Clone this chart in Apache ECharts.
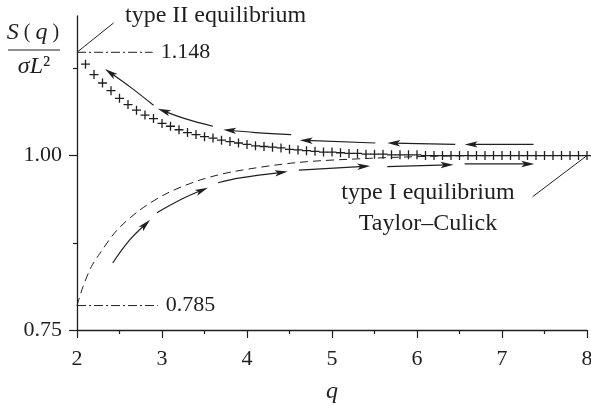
<!DOCTYPE html>
<html>
<head>
<meta charset="utf-8">
<script src="https://cdn.jsdelivr.net/npm/echarts@6/dist/echarts.min.js"></script>
<style>
  html, body { margin: 0; padding: 0; background: #fff; }
  #chart { width: 591px; height: 405px; }
</style>
</head>
<body>
<div id="chart"></div>
<script>
// q values of the "+" markers and S(q)/(sigma L^2)
const plusQ = [2.1, 2.2, 2.3, 2.4, 2.5, 2.6, 2.7, 2.8, 2.9, 3.0,
  3.1, 3.2, 3.3, 3.4, 3.5, 3.6, 3.7, 3.8, 3.9, 4.0,
  4.1, 4.2, 4.3, 4.4, 4.5, 4.6, 4.7, 4.8, 4.9, 5.0,
  5.1, 5.2, 5.3, 5.4, 5.5, 5.6, 5.7, 5.8, 5.9, 6.0,
  6.1, 6.2, 6.3, 6.4, 6.5, 6.6, 6.7, 6.8, 6.9, 7.0,
  7.1, 7.2, 7.3, 7.4, 7.5, 7.6, 7.7, 7.8, 7.9, 8.0]
const plusS = [1.131, 1.116, 1.104, 1.093, 1.082, 1.073, 1.065, 1.058, 1.053, 1.046,
  1.042, 1.037, 1.033, 1.030, 1.027, 1.025, 1.022, 1.020, 1.018, 1.016,
  1.014, 1.013, 1.012, 1.011, 1.009, 1.008, 1.007, 1.006, 1.005, 1.005,
  1.004, 1.003, 1.003, 1.002, 1.002, 1.002, 1.001, 1.001, 1.001, 1.001,
  1.000, 1.000, 1.000, 1.000, 1.000, 1.000, 1.000, 1.000, 1.000, 1.000,
  1.000, 1.000, 1.000, 1.000, 1.000, 1.000, 1.000, 1.000, 1.000, 1.000]

// dashed curve starting at the type I value 0.785
const dashQ = [2.0, 2.07, 2.17, 2.27, 2.47, 2.74, 3.06, 3.45, 3.84, 4.59, 5.44, 6.2, 7.0, 8.0]
const dashS = [0.785, 0.812, 0.841, 0.860, 0.893, 0.922, 0.946, 0.965, 0.977, 0.990, 0.996, 0.999, 1.000, 1.000]

// arrow segments, points from tail to head
const upperArrows = [
  [[2.90, 1.072], [2.64, 1.097], [2.33, 1.124]],
  [[3.60, 1.042], [3.27, 1.053], [2.95, 1.067]],
  [[4.52, 1.030], [4.10, 1.033], [3.72, 1.037]],
  [[5.51, 1.018], [4.62, 1.022]],
  [[6.45, 1.016], [5.65, 1.018]],
  [[7.37, 1.016], [6.56, 1.016]]
]
const lowerArrows = [
  [[2.42, 0.846], [2.62, 0.879], [2.86, 0.908]],
  [[2.94, 0.918], [3.24, 0.938], [3.54, 0.954]],
  [[3.66, 0.961], [3.92, 0.968], [4.48, 0.977]],
  [[4.61, 0.979], [5.45, 0.985]],
  [[5.65, 0.984], [6.43, 0.987]],
  [[6.56, 0.988], [7.38, 0.988]]
]

const typeIIValue = 1.148
const typeIValue = 0.785
const xTicks = [2, 3, 4, 5, 6, 7, 8]
const yLabels = [0.75, 1.0]
const yMinor = [0.875, 1.125]

const ink = '#1f1f1f'
const serif = '"Liberation Serif", "Times New Roman", Times, serif'

const chart = echarts.init(document.getElementById('chart'))
const arrowSegs = upperArrows.concat(lowerArrows)

const refLine = (y, x1, label) => ({
  type: 'line',
  data: [[2, y], [x1, y]],
  symbol: 'none',
  silent: true,
  lineStyle: { color: ink, width: 1, type: [9, 3, 2, 3] },
  endLabel: {
    show: true, formatter: label, distance: 8,
    color: ink, fontFamily: serif, fontSize: 22
  }
})

const leader = (pts) => ({
  type: 'line',
  data: pts,
  symbol: 'none',
  silent: true,
  lineStyle: { color: ink, width: 1 }
})

const option = {
  animation: false,
  grid: { left: 77, right: 4, top: 16, bottom: 75, containLabel: false, outerBoundsMode: 'none' },
  xAxis: {
    type: 'value', min: 2, max: 8, interval: 1,
    name: 'q', nameLocation: 'middle', nameGap: 50,
    nameTextStyle: { fontFamily: serif, fontStyle: 'italic', fontSize: 24, color: ink },
    axisLine: { lineStyle: { color: ink, width: 1.3 } },
    axisTick: { length: 8, lineStyle: { color: ink, width: 1.2 }, customValues: xTicks },
    minorTick: { show: true, splitNumber: 2, length: 4, lineStyle: { color: ink, width: 1.2 } },
    axisLabel: { fontFamily: serif, fontSize: 22, color: ink, margin: 18, customValues: xTicks },
    splitLine: { show: false }
  },
  yAxis: [{
    type: 'value', min: 0.75, max: 1.2, interval: 0.25,
    axisLine: { lineStyle: { color: ink, width: 1.3 } },
    axisTick: { length: 8, lineStyle: { color: ink, width: 1.2 }, customValues: yLabels },
    axisLabel: {
      fontFamily: serif, fontSize: 22, color: ink, margin: 15,
      customValues: yLabels, formatter: v => v.toFixed(2)
    },
    splitLine: { show: false }
  }, {
    type: 'value', min: 0.75, max: 1.2, position: 'left',
    axisLine: { show: false },
    axisTick: { show: true, length: 4, lineStyle: { color: ink, width: 1.2 }, customValues: yMinor },
    axisLabel: { show: false },
    splitLine: { show: false }
  }],
  series: [
    refLine(typeIIValue, 2.89, '1.148'),
    refLine(typeIValue, 2.95, '0.785'),
    leader([[2, typeIIValue], [2.43, 1.19]]),
    leader([[7.36, 0.941], [8, 1.0]]),
    {
      type: 'line',
      data: dashQ.map((q, i) => [q, dashS[i]]),
      smooth: 0.3,
      symbol: 'none',
      silent: true,
      lineStyle: { color: ink, width: 1, type: [8, 5] }
    },
    {
      type: 'scatter',
      data: plusQ.map((q, i) => [q, plusS[i]]),
      symbol: 'path://M0,5L10,5M5,0L5,10',
      symbolSize: 9,
      silent: true,
      itemStyle: { color: 'none', borderColor: ink, borderWidth: 1.3, opacity: 1 }
    },
    {
      type: 'custom',
      silent: true,
      data: arrowSegs.map(s => s[s.length - 1]),
      renderItem: (params, api) => {
        const pts = arrowSegs[params.dataIndex].map(p => api.coord(p))
        const head = pts[pts.length - 1]
        const prev = pts[pts.length - 2]
        const dx = head[0] - prev[0], dy = head[1] - prev[1]
        const len = Math.sqrt(dx * dx + dy * dy)
        const ux = dx / len, uy = dy / len
        const L = 13, W = 3.2
        const base = [head[0] - ux * L, head[1] - uy * L]
        const linePts = pts.slice(0, -1).concat([[head[0] - ux * 6, head[1] - uy * 6]])
        return {
          type: 'group',
          children: [{
            type: 'polyline',
            shape: { points: linePts, smooth: pts.length > 2 ? 0.4 : 0 },
            style: { stroke: ink, lineWidth: 1.2, fill: null }
          }, {
            type: 'polygon',
            shape: {
              points: [
                head,
                [base[0] - uy * W, base[1] + ux * W],
                [base[0] + ux * 3, base[1] + uy * 3],
                [base[0] + uy * W, base[1] - ux * W]
              ]
            },
            style: { fill: ink }
          }]
        }
      }
    }
  ],
  graphic: [
    {
      type: 'text', x: 33, y: 33,
      style: {
        text: '{i|S}{n| ( }{i|q}{n| )}',
        align: 'center', verticalAlign: 'middle',
        rich: {
          i: { fontFamily: serif, fontStyle: 'italic', fontSize: 24, fill: ink },
          n: { fontFamily: serif, fontSize: 20, fill: ink }
        }
      }
    },
    {
      type: 'line', shape: { x1: 8, y1: 50, x2: 60, y2: 50 },
      style: { stroke: ink, lineWidth: 1.2 }
    },
    {
      type: 'text', x: 34, y: 67,
      style: {
        text: '{i|σL}{n|²}',
        align: 'center', verticalAlign: 'middle',
        rich: {
          i: { fontFamily: serif, fontStyle: 'italic', fontSize: 24, fill: ink },
          n: { fontFamily: serif, fontSize: 24, fill: ink }
        }
      }
    },
    {
      type: 'text', x: 125, y: 16,
      style: {
        text: 'type II equilibrium', fontFamily: serif, fontSize: 24, fill: ink,
        align: 'left', verticalAlign: 'middle'
      }
    },
    {
      type: 'text', x: 428, y: 193,
      style: {
        text: 'type I equilibrium', fontFamily: serif, fontSize: 24, fill: ink,
        align: 'center', verticalAlign: 'middle'
      }
    },
    {
      type: 'text', x: 428, y: 224,
      style: {
        text: 'Taylor–Culick', fontFamily: serif, fontSize: 24, fill: ink,
        align: 'center', verticalAlign: 'middle'
      }
    }
  ]
}

chart.setOption(option)
window.addEventListener('resize', () => chart.resize())
</script>
</body>
</html>
